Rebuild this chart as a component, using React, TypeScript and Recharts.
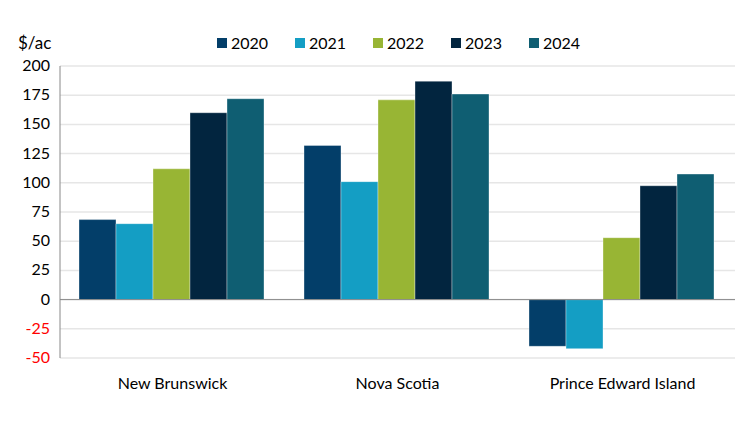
import { BarChart, Bar, XAxis, YAxis, CartesianGrid, ReferenceLine } from "recharts";

const provinces = ["New Brunswick", "Nova Scotia", "Prince Edward Island"];
const years = ["2020", "2021", "2022", "2023", "2024"];
const colors = ["#033e69", "#149ec4", "#98b534", "#02253f", "#0f5e72"];

const v2020 = [68.5, 132, -40];
const v2021 = [65, 101, -42];
const v2022 = [112, 171, 53];
const v2023 = [160, 187, 97.5];
const v2024 = [172, 176, 107.5];

const yTicks = [-50, -25, 0, 25, 50, 75, 100, 125, 150, 175, 200];

const series = [v2020, v2021, v2022, v2023, v2024];
const data = provinces.map((p, i) => {
  const row: any = { name: p };
  years.forEach((y, j) => (row[y] = series[j][i]));
  return row;
});

const font = "Lato, 'Open Sans', sans-serif";

const YTick = ({ x, y, payload }: any) => (
  <text x={x - 2} y={y} dy={5} textAnchor="end" fontSize={16} fontFamily={font} fill={payload.value < 0 ? "#ff0000" : "#000"}>
    {payload.value}
  </text>
);

// legend drawn as plain html so it doesn't push the plot down
const LegendBox = () => (
  <div style={{ position: "absolute", top: 33, left: 217, display: "flex", fontFamily: font, fontSize: 16, color: "#000" }}>
    {years.map((y, i) => (
      <div key={y} style={{ display: "flex", alignItems: "center", width: 78 }}>
        <span style={{ width: 10, height: 10, background: colors[i], marginRight: 4 }} />
        {y}
      </div>
    ))}
  </div>
);

export default function App() {
  return (
    <div style={{ position: "fixed", top: 0, left: 0, width: 750, height: 422, background: "#fff" }}>
      <div style={{ position: "absolute", left: 18, top: 32, fontFamily: font, fontSize: 17 }}>$/ac</div>
      <LegendBox />
      <BarChart width={750} height={422} data={data} margin={{ top: 66, right: 15, left: 0, bottom: 34 }} barGap={0} barCategoryGap={19}>
        <CartesianGrid vertical={false} stroke="#e6e6e6" strokeWidth={1.5} />
        <XAxis dataKey="name" axisLine={false} tickLine={false} height={30} tick={{ fontSize: 16, fontFamily: font, fill: "#000" }} dy={12} />
        <YAxis domain={[-50, 200]} ticks={yTicks} interval={0} width={60} tickLine={false} axisLine={{ stroke: "#888" }} tick={<YTick />} />
        <ReferenceLine y={0} stroke="#888" />
        {years.map((y, i) => (
          <Bar key={y} dataKey={y} fill={colors[i]} stroke="#ffffff" strokeOpacity={0.35} strokeWidth={1} isAnimationActive={false} />
        ))}
      </BarChart>
    </div>
  );
}
